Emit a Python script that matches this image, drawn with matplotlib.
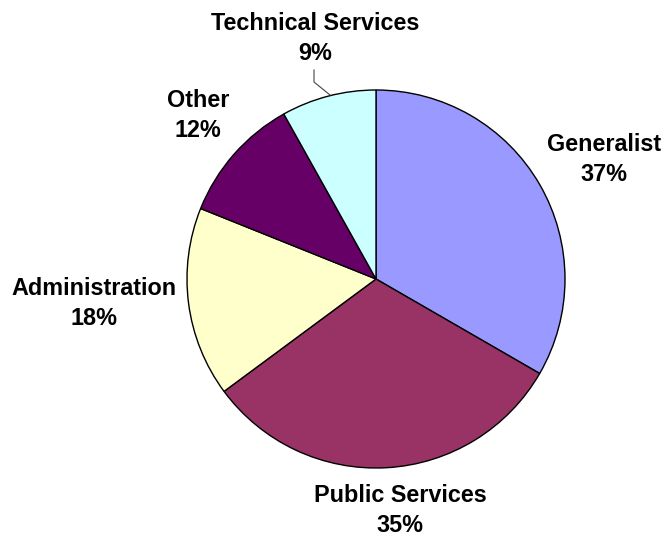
import numpy as np
import matplotlib.pyplot as plt

plt.rcParams['font.family'] = ['Liberation Sans', 'DejaVu Sans']

categories = ["Generalist", "Public Services", "Administration", "Other", "Technical Services"]
values = [37, 35, 18, 12, 9]
pct_labels = ["37%", "35%", "18%", "12%", "9%"]
colors = ["#9999FF", "#993366", "#FFFFCC", "#660066", "#CCFFFF"]

# label anchor: x centre, baseline of the percent line (pixels, top-left origin)
label_pos = [(604, 181), (400, 532), (94, 325), (198, 137), (315, 60)]

W, H = 665, 536
fig = plt.figure(figsize=(W / 100, H / 100), dpi=100)
ax = fig.add_axes([0, 0, 1, 1])

ax.pie(values, colors=colors, startangle=90, counterclock=False,
       center=(376, H - 279), radius=189,
       wedgeprops=dict(edgecolor="black", linewidth=1.0), frame=True)
ax.set_xlim(0, W)
ax.set_ylim(0, H)
ax.set_aspect("equal")
ax.axis("off")

for name, pct, (x, y) in zip(categories, pct_labels, label_pos):
    ax.text(x, H - y, name + "\n" + pct, ha="center", va="baseline",
            multialignment="center", fontsize=16.8, fontweight="bold",
            linespacing=1.39)

# leader line for the small slice
ax.plot([314, 314, 330], [H - 70, H - 82, H - 95], color="#444444", linewidth=0.8)

fig.savefig("out.png", dpi=100)
